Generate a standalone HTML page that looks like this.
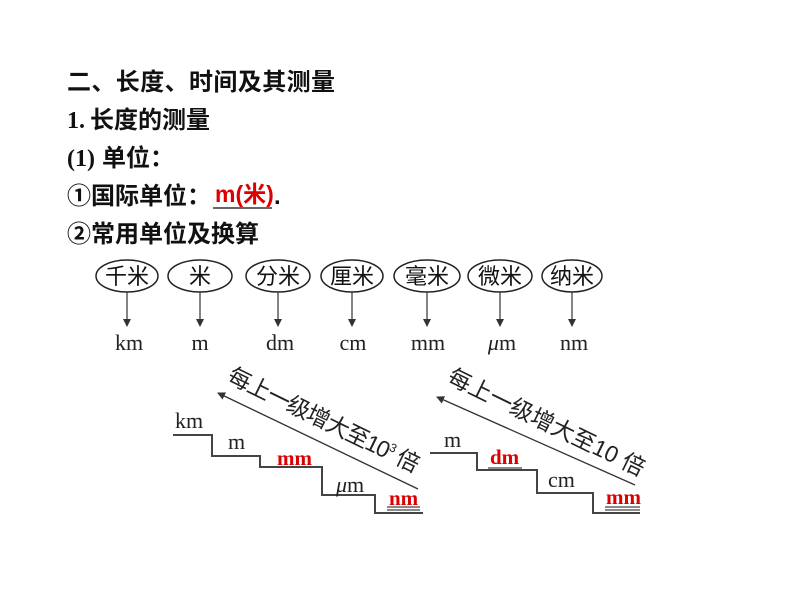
<!DOCTYPE html>
<html><head><meta charset="utf-8"><style>
body{margin:0;background:#fff;width:800px;height:600px;overflow:hidden}
svg{display:block}
.c{font-family:"Liberation Sans","Noto Sans CJK SC",sans-serif;font-size:22px;fill:#111}
.u{font-family:"Liberation Serif",serif;font-size:22px;fill:#222}
.r{font-family:"Liberation Serif",serif;font-size:21px;fill:#d00;font-weight:bold}
.s{font-family:"Liberation Sans","Noto Sans CJK SC",sans-serif;font-size:23px;fill:#222}
</style></head><body>
<svg width="800" height="600" viewBox="0 0 800 600">
<defs><marker id="a" markerWidth="8" markerHeight="8" refX="7" refY="4" orient="auto" markerUnits="userSpaceOnUse"><path d="M0,0 L8,4 L0,8 z" fill="#333"/></marker></defs>
<g font-family="'Liberation Sans','Noto Sans CJK SC',sans-serif" font-size="24" font-weight="bold" fill="#111">
<text x="67" y="90" textLength="268">二、长度、时间及其测量</text>
<text x="67" y="128" font-family="'Liberation Serif','Noto Sans CJK SC',serif">1.</text>
<text x="90" y="128">长度的测量</text>
<text x="67" y="166" font-family="'Liberation Serif','Noto Sans CJK SC',serif">(1)</text>
<text x="102" y="166">单位：</text>
<text x="67" y="204">①国际单位：</text>
<text x="215" y="202" fill="#d00" font-size="23">m(米)</text>
<line x1="213" y1="208" x2="272" y2="208" stroke="#333" stroke-width="1.5"/>
<text x="274" y="204">.</text>
<text x="67" y="242">②常用单位及换算</text>
</g>
<g stroke="#222" stroke-width="1.5" fill="none">
<ellipse cx="127" cy="276" rx="31" ry="16"/>
<ellipse cx="200" cy="276" rx="32" ry="16"/>
<ellipse cx="278" cy="276" rx="32" ry="16"/>
<ellipse cx="352" cy="276" rx="31" ry="16"/>
<ellipse cx="427" cy="276" rx="33" ry="16"/>
<ellipse cx="500" cy="276" rx="32" ry="16"/>
<ellipse cx="572" cy="276" rx="30" ry="16"/>
</g>
<g stroke="#333" stroke-width="1.2" marker-end="url(#a)">
<line x1="127" y1="292" x2="127" y2="326"/>
<line x1="200" y1="292" x2="200" y2="326"/>
<line x1="278" y1="292" x2="278" y2="326"/>
<line x1="352" y1="292" x2="352" y2="326"/>
<line x1="427" y1="292" x2="427" y2="326"/>
<line x1="500" y1="292" x2="500" y2="326"/>
<line x1="572" y1="292" x2="572" y2="326"/>
</g>
<g text-anchor="middle">
<text class="c" x="127" y="284">千米</text>
<text class="c" x="200" y="284">米</text>
<text class="c" x="278" y="284">分米</text>
<text class="c" x="352" y="284">厘米</text>
<text class="c" x="427" y="284">毫米</text>
<text class="c" x="500" y="284">微米</text>
<text class="c" x="572" y="284">纳米</text>
<text class="u" x="129" y="350">km</text>
<text class="u" x="200" y="350">m</text>
<text class="u" x="280" y="350">dm</text>
<text class="u" x="353" y="350">cm</text>
<text class="u" x="428" y="350">mm</text>
<text class="u" x="502" y="350"><tspan font-style="italic">μ</tspan>m</text>
<text class="u" x="574" y="350">nm</text>
</g>
<g stroke="#444" stroke-width="2" fill="none">
<polyline points="173,435 212,435 212,456 260,456 260,467 322,467 322,495 375,495 375,513 423,513"/>
<polyline points="430,453 477,453 477,470 537,470 537,493 593,493 593,513 640,513"/>
</g>
<g stroke="#444" stroke-width="1.2">
<line x1="275" y1="467" x2="308" y2="467"/>
<line x1="387" y1="507" x2="420" y2="507"/><line x1="387" y1="510" x2="420" y2="510"/>
<line x1="488" y1="468" x2="522" y2="468"/>
<line x1="605" y1="507" x2="640" y2="507"/><line x1="605" y1="510" x2="640" y2="510"/>
</g>
<g stroke="#333" stroke-width="1.3" marker-end="url(#a)">
<line x1="418" y1="489" x2="218" y2="393"/>
<line x1="635" y1="485" x2="437" y2="397"/>
</g>
<text class="u" x="175" y="428">km</text>
<text class="u" x="228" y="449">m</text>
<text class="r" x="277" y="465">mm</text>
<text class="u" x="336" y="492"><tspan font-style="italic">μ</tspan>m</text>
<text class="r" x="389" y="505">nm</text>
<text class="u" x="444" y="447">m</text>
<text class="r" x="490" y="464">dm</text>
<text class="u" x="548" y="487">cm</text>
<text class="r" x="606" y="504">mm</text>
<text class="s" transform="translate(226,381) rotate(26)" textLength="210">每上一级增大至10<tspan font-size="12" dy="-9">3</tspan><tspan dy="9"> 倍</tspan></text>
<text class="s" transform="translate(446,382) rotate(26)">每上一级增大至10 倍</text>
</svg>
</body></html>
